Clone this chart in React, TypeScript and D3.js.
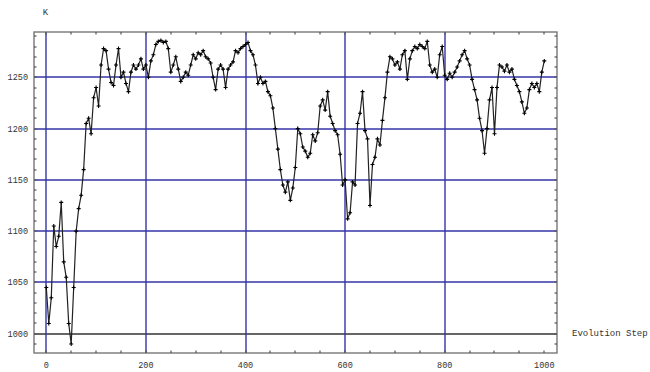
import React from "react";
import * as d3 from "d3";

const steps: number[] = [
  0, 5, 10, 15, 20, 25, 30, 35, 40, 45, 50, 55, 60, 65, 70, 75, 80, 85, 90, 95,
  100, 105, 110, 115, 120, 125, 130, 135, 140, 145, 150, 155, 160, 165, 170, 175, 180, 185, 190, 195,
  200, 205, 210, 215, 220, 225, 230, 235, 240, 245, 250, 255, 260, 265, 270, 275, 280, 285, 290, 295,
  300, 305, 310, 315, 320, 325, 330, 335, 340, 345, 350, 355, 360, 365, 370, 375, 380, 385, 390, 395,
  400, 405, 410, 415, 420, 425, 430, 435, 440, 445, 450, 455, 460, 465, 470, 475, 480, 485, 490, 495,
  500, 505, 510, 515, 520, 525, 530, 535, 540, 545, 550, 555, 560, 565, 570, 575, 580, 585, 590, 595,
  600, 605, 610, 615, 620, 625, 630, 635, 640, 645, 650, 655, 660, 665, 670, 675, 680, 685, 690, 695,
  700, 705, 710, 715, 720, 725, 730, 735, 740, 745, 750, 755, 760, 765, 770, 775, 780, 785, 790, 795,
  800, 805, 810, 815, 820, 825, 830, 835, 840, 845, 850, 855, 860, 865, 870, 875, 880, 885, 890, 895,
  900, 905, 910, 915, 920, 925, 930, 935, 940, 945, 950, 955, 960, 965, 970, 975, 980, 985, 990, 995,
  1000,
];

const kValues: number[] = [
  1045, 1010, 1035, 1105, 1085, 1095, 1128, 1070, 1055, 1010, 990, 1045, 1100, 1122, 1135, 1160, 1205, 1210, 1195, 1230,
  1240, 1222, 1262, 1278, 1276, 1258, 1245, 1242, 1262, 1278, 1250, 1255, 1244, 1236, 1255, 1262, 1258, 1262, 1268, 1258,
  1262, 1250, 1266, 1272, 1282, 1285, 1286, 1284, 1285, 1278, 1255, 1262, 1270, 1258, 1246, 1250, 1255, 1252, 1262, 1272,
  1268, 1274, 1272, 1276, 1270, 1268, 1264, 1250, 1238, 1258, 1262, 1258, 1240, 1258, 1262, 1265, 1276, 1274, 1278, 1280,
  1282, 1284, 1276, 1272, 1262, 1244, 1250, 1244, 1246, 1236, 1232, 1220, 1200, 1180, 1160, 1145, 1138, 1148, 1130, 1142,
  1162, 1200, 1195, 1182, 1178, 1172, 1176, 1194, 1188, 1196, 1222, 1228, 1218, 1236, 1212, 1205, 1198, 1194, 1175, 1145,
  1150, 1112, 1118, 1148, 1145, 1205, 1215, 1236, 1198, 1190, 1125, 1165, 1172, 1190, 1184, 1208, 1230, 1255, 1270, 1268,
  1262, 1265, 1258, 1272, 1276, 1248, 1268, 1276, 1280, 1278, 1282, 1280, 1278, 1285, 1262, 1255, 1258, 1250, 1272, 1280,
  1252, 1248, 1254, 1250, 1255, 1260, 1266, 1272, 1276, 1268, 1262, 1248, 1238, 1228, 1210, 1198, 1176, 1200, 1228, 1240,
  1195, 1240, 1262, 1260, 1256, 1262, 1255, 1258, 1248, 1242, 1236, 1226, 1215, 1220, 1238, 1244, 1240, 1244, 1236, 1255,
  1266,
];

const xTickLabels: number[] = [0, 200, 400, 600, 800, 1000];
const yTickLabels: number[] = [1000, 1050, 1100, 1150, 1200, 1250];
const xGridValues: number[] = [0, 200, 400, 600, 800];
const xMinorTicks: number[] = d3.range(0, 1001, 50);
const yMinorTicks: number[] = d3.range(990, 1291, 10);

const W = 650;
const H = 372;
const frame = { left: 34, top: 32, right: 557, bottom: 353 };

export default function App() {
  const x = d3.scaleLinear().domain([0, 1000]).range([46.3, 544.3]);
  const y = d3.scaleLinear().domain([1000, 1250]).range([333.7, 77.3]);

  const line = d3
    .line<number>()
    .x((_, i) => x(steps[i]))
    .y((d) => y(d));

  const font = "'Liberation Mono', 'DejaVu Sans Mono', monospace";
  const navy = "#3434a8";

  return (
    <svg
      width={W}
      height={H}
      style={{ position: "absolute", left: 0, top: 0, background: "#fff" }}
    >
      {yTickLabels.map((v) => (
        <line
          key={"hg" + v}
          x1={frame.left}
          x2={frame.right}
          y1={Math.round(y(v))}
          y2={Math.round(y(v))}
          stroke={v === 1000 ? "#666" : navy}
          strokeWidth={v === 1000 ? 1.8 : 1.4}
        />
      ))}
      {xGridValues.map((v) => (
        <line
          key={"vg" + v}
          x1={Math.round(x(v))}
          x2={Math.round(x(v))}
          y1={frame.top}
          y2={frame.bottom}
          stroke={navy}
          strokeWidth={1.4}
        />
      ))}
      <rect
        x={frame.left}
        y={frame.top}
        width={frame.right - frame.left}
        height={frame.bottom - frame.top}
        fill="none"
        stroke="#777"
        strokeWidth={1.4}
      />
      {xMinorTicks.map((v) => (
        <g key={"xt" + v}>
          <line x1={Math.round(x(v))} x2={Math.round(x(v))} y1={frame.top} y2={frame.top + 2.5} stroke="#555" strokeWidth={1.2} />
          <line x1={Math.round(x(v))} x2={Math.round(x(v))} y1={frame.bottom} y2={frame.bottom - 2.5} stroke="#555" strokeWidth={1.2} />
        </g>
      ))}
      {yMinorTicks
        .filter((v) => y(v) > frame.top && y(v) < frame.bottom)
        .map((v) => (
          <g key={"yt" + v}>
            <line x1={frame.left} x2={frame.left + 2.5} y1={Math.round(y(v))} y2={Math.round(y(v))} stroke="#555" strokeWidth={1.2} />
            <line x1={frame.right} x2={frame.right - 2.5} y1={Math.round(y(v))} y2={Math.round(y(v))} stroke="#555" strokeWidth={1.2} />
          </g>
        ))}
      <path d={line(kValues) || ""} fill="none" stroke="#222" strokeWidth={1.2} />
      {kValues.map((v, i) => {
        const cx = x(steps[i]);
        const cy = y(v);
        return (
          <path
            key={"m" + i}
            d={`M${cx - 2},${cy}H${cx + 2}M${cx},${cy - 2}V${cy + 2}`}
            stroke="#000"
            strokeWidth={1.1}
          />
        );
      })}
      {xTickLabels.map((v) => (
        <text
          key={"xl" + v}
          x={x(v)}
          y={368}
          textAnchor="middle"
          fontFamily={font}
          fontSize={8.5}
          fill="#333"
        >
          {v}
        </text>
      ))}
      {yTickLabels.map((v) => (
        <text
          key={"yl" + v}
          x={28}
          y={y(v) + 3}
          textAnchor="end"
          fontFamily={font}
          fontSize={8.5}
          fill="#333"
        >
          {v}
        </text>
      ))}
      <text x={45.5} y={15} textAnchor="middle" fontFamily={font} fontSize={9} fill="#333">
        K
      </text>
      <text x={572} y={336} fontFamily={font} fontSize={9} fill="#333">
        Evolution Step
      </text>
    </svg>
  );
}
